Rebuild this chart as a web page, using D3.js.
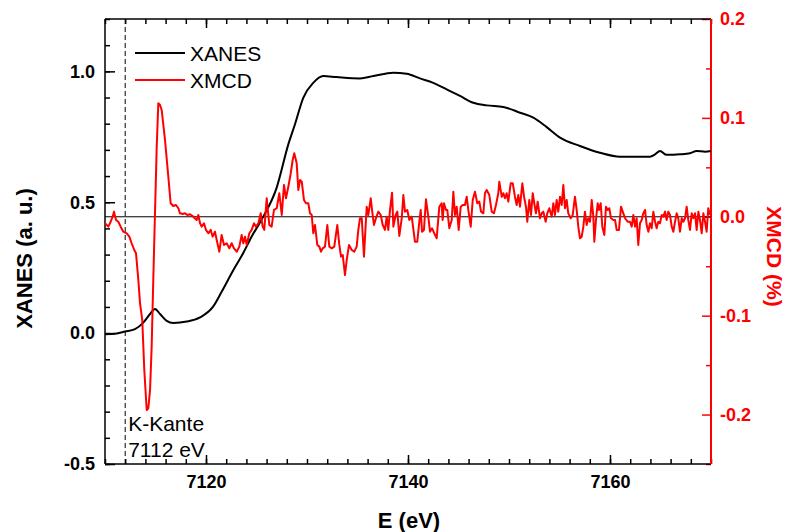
<!DOCTYPE html>
<html>
<head>
<meta charset="utf-8">
<script src="https://cdn.jsdelivr.net/npm/d3@7"></script>
<style>
  body { margin: 0; background: #fff; }
  svg { display: block; font-family: "Liberation Sans", Arial, sans-serif; }
</style>
</head>
<body>
<svg id="chart" width="786" height="532"></svg>
<script>
// XANES spectrum (normalised absorption, left axis)
const xanesEnergy = [7110.00, 7110.99, 7111.98, 7112.97, 7113.79, 7114.46, 7114.95, 7115.45, 7116.11, 7116.76,
  7118.09, 7119.41, 7120.72, 7121.55, 7122.70, 7123.69, 7124.55, 7125.54, 7127.00, 7128.15,
  7128.81, 7129.63, 7130.62, 7131.61, 7132.94, 7135.25, 7136.56, 7138.54, 7139.87, 7141.19,
  7142.50, 7143.83, 7145.15, 7146.47, 7147.79, 7149.44, 7151.09, 7152.41, 7153.73, 7155.05,
  7157.03, 7159.01, 7160.99, 7163.96, 7164.46, 7164.95, 7165.61, 7166.93, 7167.92, 7168.58,
  7169.41, 7170.00];
const xanesValue = [-0.004, -0.002, 0.006, 0.015, 0.040, 0.073, 0.092, 0.073, 0.047, 0.039,
  0.044, 0.060, 0.102, 0.158, 0.240, 0.306, 0.371, 0.436, 0.556, 0.721,
  0.798, 0.899, 0.956, 0.982, 0.978, 0.973, 0.982, 0.995, 0.991, 0.973,
  0.956, 0.931, 0.906, 0.880, 0.870, 0.864, 0.842, 0.823, 0.787, 0.747,
  0.715, 0.689, 0.674, 0.674, 0.683, 0.696, 0.681, 0.683, 0.687, 0.696,
  0.693, 0.696];

// XMCD signal in % (right axis)
const xmcdEnergy = [
  7110.00, 7110.33, 7110.56, 7110.76, 7110.89, 7111.09, 7111.32, 7111.55, 7111.81, 7112.15,
  7112.41, 7112.64, 7112.90, 7113.07, 7113.30, 7113.47, 7113.69, 7113.89, 7114.13, 7114.29,
  7114.46, 7114.62, 7114.78, 7114.95, 7115.12, 7115.28, 7115.45, 7115.61, 7115.94, 7116.27,
  7116.50, 7116.76, 7117.03, 7117.26, 7117.43, 7117.69, 7117.92, 7118.15, 7118.42, 7118.74,
  7119.08, 7119.24, 7119.41, 7119.57, 7119.80, 7120.00, 7120.23, 7120.47, 7120.66, 7120.89,
  7121.06, 7121.32, 7121.55, 7121.78, 7122.05, 7122.31, 7122.54, 7122.77, 7123.04, 7123.30,
  7123.53, 7123.69, 7123.86, 7124.03, 7124.29, 7124.52, 7124.75, 7124.95, 7125.18, 7125.42,
  7125.61, 7125.77, 7126.01, 7126.27, 7126.50, 7126.73, 7127.00, 7127.26, 7127.50, 7127.72,
  7127.92, 7128.15, 7128.39, 7128.58, 7128.74, 7128.98, 7129.14, 7129.31, 7129.48, 7129.70,
  7129.90, 7130.13, 7130.30, 7130.47, 7130.62, 7130.79, 7131.02, 7131.22, 7131.39, 7131.55,
  7131.78, 7132.01, 7132.21, 7132.45, 7132.70, 7133.00, 7133.20, 7133.37, 7133.54, 7133.76,
  7133.93, 7134.16, 7134.43, 7134.68, 7134.92, 7135.08, 7135.25, 7135.42, 7135.64, 7135.91,
  7136.07, 7136.31, 7136.50, 7136.63, 7136.83, 7137.06, 7137.30, 7137.50, 7137.72, 7137.89,
  7138.05, 7138.22, 7138.42, 7138.55, 7138.78, 7138.94, 7139.14, 7139.38, 7139.54, 7139.70,
  7139.93, 7140.13, 7140.37, 7140.69, 7140.92, 7141.12, 7141.26, 7141.39, 7141.58, 7141.78,
  7142.01, 7142.18, 7142.38, 7142.60, 7142.84, 7143.10, 7143.33, 7143.43, 7143.56, 7143.76,
  7143.89, 7144.09, 7144.33, 7144.49, 7144.65, 7144.82, 7145.02, 7145.22, 7145.42, 7145.64,
  7145.81, 7145.97, 7146.21, 7146.41, 7146.63, 7146.86, 7147.06, 7147.23, 7147.46, 7147.62,
  7147.79, 7148.05, 7148.29, 7148.51, 7148.71, 7148.94, 7149.04, 7149.28, 7149.44, 7149.60,
  7149.77, 7149.93, 7150.17, 7150.37, 7150.59, 7150.76, 7150.92, 7151.09, 7151.32, 7151.49,
  7151.68, 7151.81, 7152.01, 7152.18, 7152.35, 7152.50, 7152.67, 7152.84, 7153.07, 7153.24,
  7153.40, 7153.63, 7153.79, 7153.99, 7154.23, 7154.39, 7154.55, 7154.72, 7154.88, 7155.05,
  7155.22, 7155.38, 7155.54, 7155.71, 7155.87, 7156.11, 7156.31, 7156.53, 7156.70, 7156.86,
  7157.03, 7157.20, 7157.36, 7157.52, 7157.69, 7157.85, 7158.02, 7158.19, 7158.35, 7158.45,
  7158.61, 7158.78, 7158.91, 7159.08, 7159.24, 7159.44, 7159.60, 7159.77, 7159.93, 7160.10,
  7160.33, 7160.50, 7160.66, 7160.89, 7161.09, 7161.32, 7161.49, 7161.75, 7161.98, 7162.15,
  7162.31, 7162.48, 7162.64, 7162.80, 7162.97, 7163.14, 7163.30, 7163.47, 7163.63, 7163.80,
  7163.96, 7164.13, 7164.29, 7164.46, 7164.62, 7164.78, 7164.95, 7165.12, 7165.28, 7165.45,
  7165.61, 7165.77, 7165.94, 7166.11, 7166.27, 7166.44, 7166.60, 7166.76, 7166.93, 7167.10,
  7167.26, 7167.43, 7167.59, 7167.75, 7167.92, 7168.09, 7168.25, 7168.42, 7168.58, 7168.75,
  7168.91, 7169.08, 7169.24, 7169.41, 7169.57, 7169.73, 7169.90];
const xmcdValue = [
  -0.0066, -0.0100, -0.0050, 0.0001, 0.0052, -0.0032, -0.0050, -0.0100, -0.0151, -0.0167,
  -0.0201, -0.0268, -0.0336, -0.0369, -0.0639, -0.0875, -0.1044, -0.1549, -0.1954, -0.1936,
  -0.1751, -0.1314, -0.0639, 0.0035, 0.0709, 0.1148, 0.1131, 0.1080, 0.0777, 0.0405,
  0.0137, 0.0109, 0.0119, 0.0086, 0.0035, 0.0028, 0.0035, 0.0018, 0.0025, 0.0001,
  -0.0032, 0.0018, -0.0066, -0.0100, -0.0066, -0.0133, -0.0167, -0.0133, -0.0201, -0.0151,
  -0.0235, -0.0353, -0.0184, -0.0285, -0.0268, -0.0319, -0.0268, -0.0319, -0.0353, -0.0302,
  -0.0184, -0.0268, -0.0201, -0.0285, -0.0167, -0.0133, -0.0066, -0.0100, -0.0066, 0.0035,
  -0.0100, -0.0133, 0.0187, -0.0083, -0.0100, 0.0069, 0.0086, 0.0238, 0.0018, 0.0322,
  0.0187, 0.0304, 0.0440, 0.0574, 0.0642, 0.0541, 0.0271, 0.0372, 0.0355, 0.0170,
  0.0137, 0.0137, 0.0035, 0.0018, -0.0167, -0.0083, -0.0285, -0.0302, -0.0353, -0.0319,
  -0.0302, -0.0083, -0.0302, -0.0319, -0.0302, -0.0083, -0.0285, -0.0403, -0.0386, -0.0589,
  -0.0437, -0.0285, -0.0336, -0.0353, -0.0302, -0.0133, -0.0015, -0.0015, -0.0403, 0.0102,
  0.0018, 0.0187, 0.0018, -0.0083, -0.0015, 0.0052, 0.0018, -0.0083, -0.0133, 0.0001,
  -0.0133, 0.0069, 0.0244, -0.0100, 0.0018, 0.0052, -0.0194, -0.0015, 0.0220, 0.0052,
  0.0069, -0.0032, 0.0001, -0.0252, -0.0252, -0.0050, 0.0069, -0.0151, -0.0133, 0.0177,
  0.0001, -0.0151, -0.0116, -0.0167, -0.0217, 0.0102, 0.0137, -0.0032, 0.0137, 0.0069,
  0.0069, -0.0116, -0.0032, 0.0254, 0.0018, 0.0102, -0.0133, 0.0102, 0.0119, 0.0119,
  0.0203, 0.0069, -0.0100, 0.0170, 0.0254, 0.0137, 0.0153, 0.0052, 0.0035, 0.0238,
  0.0271, 0.0220, 0.0052, 0.0035, 0.0119, 0.0238, 0.0355, 0.0203, 0.0238, 0.0187,
  0.0238, 0.0153, 0.0339, 0.0339, 0.0203, 0.0119, 0.0220, 0.0102, 0.0339, 0.0203,
  0.0102, -0.0050, 0.0170, 0.0018, 0.0238, 0.0137, 0.0035, 0.0153, -0.0015, 0.0035,
  0.0052, -0.0050, 0.0035, 0.0086, 0.0001, 0.0137, 0.0018, 0.0170, 0.0052, 0.0203,
  0.0119, 0.0322, 0.0086, 0.0170, 0.0035, -0.0015, 0.0018, 0.0203, 0.0069, -0.0100,
  -0.0217, -0.0201, -0.0100, 0.0052, -0.0083, -0.0015, -0.0050, 0.0170, 0.0001, -0.0252,
  -0.0032, 0.0137, 0.0069, 0.0137, -0.0100, -0.0184, 0.0102, 0.0069, 0.0086, -0.0015,
  -0.0032, -0.0032, -0.0133, -0.0133, 0.0102, 0.0035, -0.0015, -0.0050, -0.0050, -0.0100,
  0.0018, -0.0100, -0.0015, -0.0285, -0.0066, -0.0032, 0.0035, 0.0069, -0.0083, -0.0151,
  -0.0066, -0.0116, 0.0052, -0.0050, -0.0116, -0.0050, -0.0066, 0.0018, 0.0001, 0.0052,
  -0.0032, 0.0052, 0.0018, -0.0100, -0.0151, -0.0050, 0.0035, -0.0015, -0.0151, -0.0015,
  -0.0050, -0.0015, 0.0102, -0.0032, -0.0133, 0.0035, -0.0015, 0.0035, -0.0133, 0.0052,
  -0.0032, -0.0167, 0.0035, -0.0050, -0.0151, 0.0086, 0.0018];

const xTickMajor = [7120, 7140, 7160];
const leftTickMajor = [-0.5, 0.0, 0.5, 1.0];
const rightTickMajor = [-0.2, -0.1, 0.0, 0.1, 0.2];
const edgeEnergy = 7112;
const edgeLabel = ["K-Kante", "7112 eV"];
const seriesNames = ["XANES", "XMCD"];
const seriesColors = ["#000000", "#ff0000"];

const svg = d3.select("#chart");
const plot = { left: 105, right: 711, top: 19, bottom: 464 };

const x = d3.scaleLinear().domain([7110, 7170]).range([plot.left, plot.right]);
const yL = d3.scaleLinear().domain([-0.5, 1.2]).range([plot.bottom, plot.top]);
const yR = d3.scaleLinear().domain([-0.25, 0.2]).range([plot.bottom, plot.top]);

const tickFont = "bold 18px 'Liberation Sans', Arial, sans-serif";
// one decimal, plain hyphen as minus sign
const fmt1 = d => d3.format(".1f")(d).replace("\u2212", "-");

function styleAxis(g, color) {
  g.select(".domain").remove();
  g.selectAll("line").attr("stroke", color).attr("stroke-width", 1.5);
  g.selectAll("text").style("font", tickFont).attr("fill", color);
}

// bottom axis: minor ticks every 2 eV, major every 20 eV
svg.append("g").attr("transform", `translate(0,${plot.bottom})`)
  .call(d3.axisBottom(x).tickValues(d3.range(7110, 7171, 2)).tickSize(-5).tickFormat(""))
  .call(g => styleAxis(g, "#000"));
svg.append("g").attr("transform", `translate(0,${plot.bottom})`)
  .call(d3.axisBottom(x).tickValues(xTickMajor).tickSize(-9).tickPadding(11).tickFormat(d3.format("d")))
  .call(g => styleAxis(g, "#000"));

// top axis (mirror, no labels)
svg.append("g").attr("transform", `translate(0,${plot.top})`)
  .call(d3.axisTop(x).tickValues(d3.range(7110, 7171, 2)).tickSize(-5).tickFormat(""))
  .call(g => styleAxis(g, "#000"));
svg.append("g").attr("transform", `translate(0,${plot.top})`)
  .call(d3.axisTop(x).tickValues(xTickMajor).tickSize(-9).tickFormat(""))
  .call(g => styleAxis(g, "#000"));

// left axis
svg.append("g").attr("transform", `translate(${plot.left},0)`)
  .call(d3.axisLeft(yL).tickValues(d3.range(-5, 13, 1).map(d => d / 10)).tickSize(-5).tickFormat(""))
  .call(g => styleAxis(g, "#000"));
svg.append("g").attr("transform", `translate(${plot.left},0)`)
  .call(d3.axisLeft(yL).tickValues(leftTickMajor).tickSize(-10).tickPadding(10).tickFormat(fmt1))
  .call(g => styleAxis(g, "#000"));

// right axis (XMCD, red)
svg.append("g").attr("transform", `translate(${plot.right},0)`)
  .call(d3.axisRight(yR).tickValues([-0.25, -0.15, -0.05, 0.05, 0.15]).tickSize(-5).tickFormat(""))
  .call(g => styleAxis(g, "#ff0000"));
svg.append("g").attr("transform", `translate(${plot.right},0)`)
  .call(d3.axisRight(yR).tickValues(rightTickMajor).tickSize(-9).tickPadding(9).tickFormat(fmt1))
  .call(g => styleAxis(g, "#ff0000"));

// frame lines
svg.append("line").attr("x1", plot.left).attr("x2", plot.right).attr("y1", plot.top).attr("y2", plot.top)
  .attr("stroke", "#000").attr("stroke-width", 1.5);
svg.append("line").attr("x1", plot.left).attr("x2", plot.right).attr("y1", plot.bottom).attr("y2", plot.bottom)
  .attr("stroke", "#000").attr("stroke-width", 1.5);
svg.append("line").attr("x1", plot.left).attr("x2", plot.left).attr("y1", plot.top).attr("y2", plot.bottom)
  .attr("stroke", "#000").attr("stroke-width", 1.5);
svg.append("line").attr("x1", plot.right).attr("x2", plot.right).attr("y1", plot.top).attr("y2", plot.bottom)
  .attr("stroke", "#ff0000").attr("stroke-width", 2);

// zero line of the XMCD signal
svg.append("line").attr("x1", plot.left).attr("x2", plot.right)
  .attr("y1", yR(0)).attr("y2", yR(0)).attr("stroke", "#000").attr("stroke-width", 1);

// absorption edge marker
svg.append("line").attr("x1", x(edgeEnergy)).attr("x2", x(edgeEnergy))
  .attr("y1", plot.top).attr("y2", plot.bottom)
  .attr("stroke", "#000").attr("stroke-width", 1).attr("stroke-dasharray", "5,3");
svg.append("g").selectAll("text").data(edgeLabel).join("text")
  .attr("x", x(edgeEnergy) + 3).attr("y", (d, i) => 431 + i * 26)
  .style("font", "21px 'Liberation Sans', Arial, sans-serif").attr("fill", "#000")
  .text(d => d);

// curves
const xanesLine = d3.line().x(d => x(d[0])).y(d => yL(d[1])).curve(d3.curveMonotoneX);
svg.append("path").datum(d3.zip(xanesEnergy, xanesValue))
  .attr("d", xanesLine).attr("fill", "none").attr("stroke", seriesColors[0])
  .attr("stroke-width", 2).attr("stroke-linejoin", "round");

const xmcdLine = d3.line().x(d => x(d[0])).y(d => yR(d[1]));
svg.append("path").datum(d3.zip(xmcdEnergy, xmcdValue))
  .attr("d", xmcdLine).attr("fill", "none").attr("stroke", seriesColors[1])
  .attr("stroke-width", 2).attr("stroke-linejoin", "round");

// legend
const legend = svg.append("g").selectAll("g").data(seriesNames).join("g")
  .attr("transform", (d, i) => `translate(135,${53 + i * 27})`);
legend.append("line").attr("x1", 0).attr("x2", 50).attr("y1", 0).attr("y2", 0)
  .attr("stroke", (d, i) => seriesColors[i]).attr("stroke-width", 2);
legend.append("text").attr("x", 55).attr("y", 0).attr("dy", "0.36em")
  .style("font", "21px 'Liberation Sans', Arial, sans-serif").attr("fill", "#000")
  .text(d => d);

// axis titles
svg.append("text").attr("transform", `translate(${(plot.left + plot.right) / 2 + 1},528)`)
  .attr("text-anchor", "middle").style("font", "bold 22px 'Liberation Sans', Arial, sans-serif")
  .attr("fill", "#000").text("E (eV)");
svg.append("text").attr("transform", `translate(32,${(plot.top + plot.bottom) / 2 + 17}) rotate(-90)`)
  .attr("text-anchor", "middle").style("font", "bold 22px 'Liberation Sans', Arial, sans-serif")
  .attr("fill", "#000").text("XANES (a. u.)");
svg.append("text").attr("transform", `translate(767,${(plot.top + plot.bottom) / 2 + 15}) rotate(90)`)
  .attr("text-anchor", "middle").style("font", "bold 21px 'Liberation Sans', Arial, sans-serif")
  .attr("fill", "#ff0000").text("XMCD (%)");
</script>
</body>
</html>
